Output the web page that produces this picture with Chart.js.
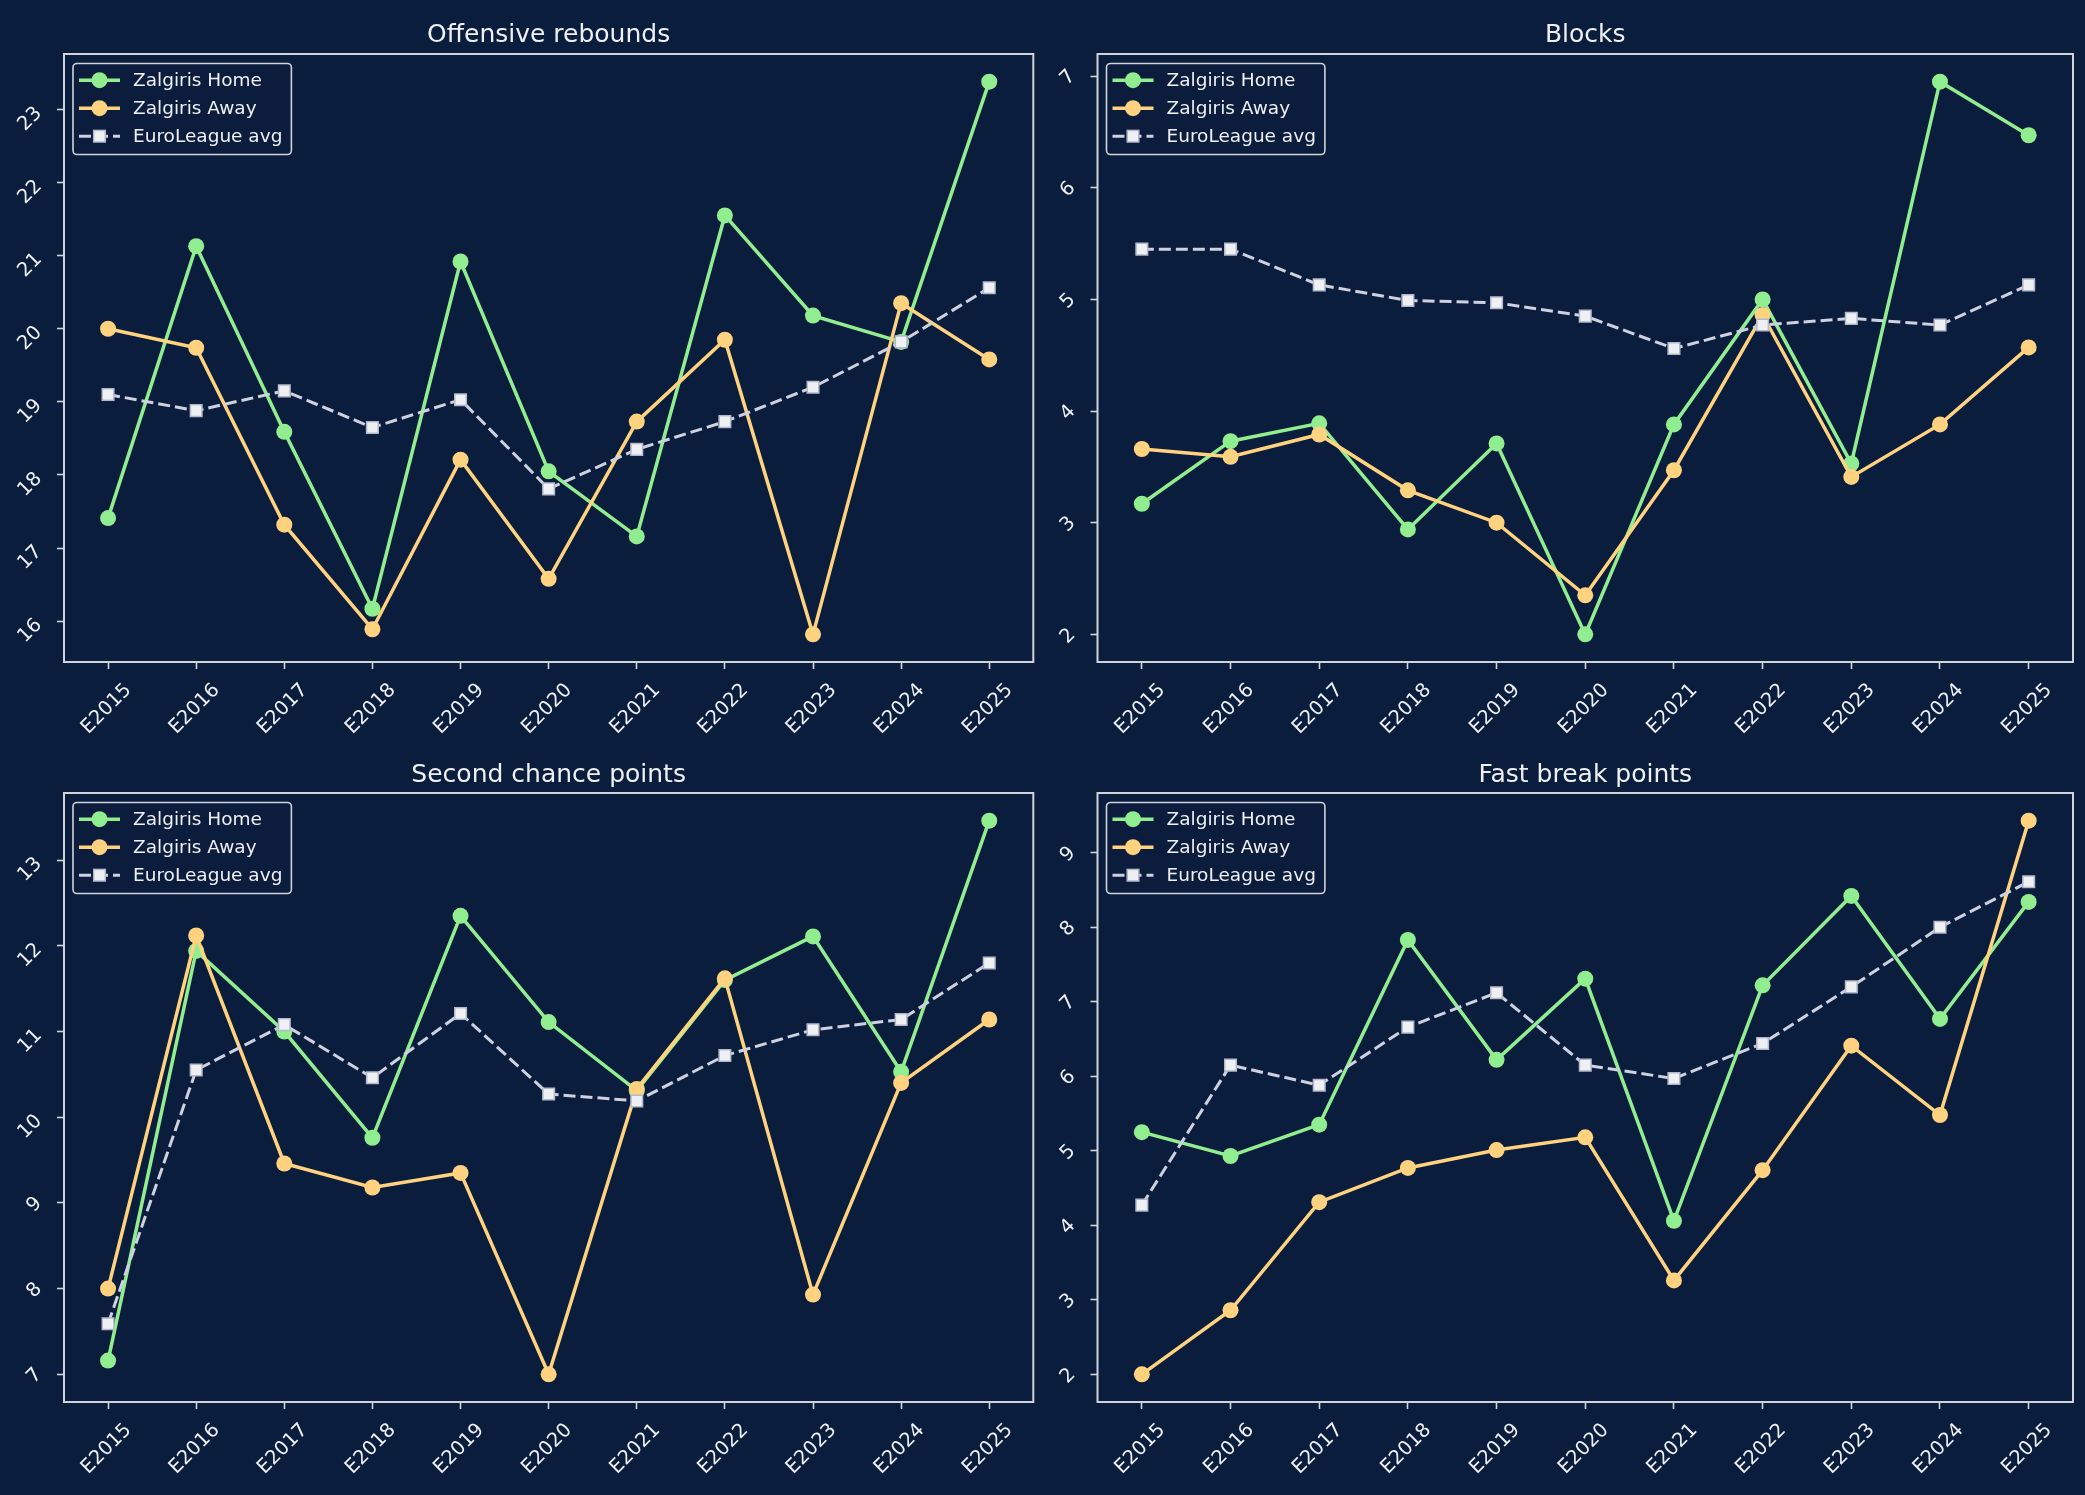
<!DOCTYPE html>
<html>
<head>
<meta charset="utf-8">
<script src="https://cdn.jsdelivr.net/npm/chart.js@4.4.1/dist/chart.umd.min.js"></script>
<style>
  html, body { margin: 0; padding: 0; background: #0b1d3c; width: 2085px; height: 1495px; overflow: hidden; }
  .panel { position: absolute; }
</style>
</head>
<body>
<div class="panel" style="left:0px;top:0px;width:1043px;height:740px;"><canvas id="c0"></canvas></div>
<div class="panel" style="left:1043px;top:0px;width:1042px;height:740px;"><canvas id="c1"></canvas></div>
<div class="panel" style="left:0px;top:740px;width:1043px;height:755px;"><canvas id="c2"></canvas></div>
<div class="panel" style="left:1043px;top:740px;width:1042px;height:755px;"><canvas id="c3"></canvas></div>
<script>
// ---------------- data ----------------
const seasons = ['E2015','E2016','E2017','E2018','E2019','E2020','E2021','E2022','E2023','E2024','E2025'];
const seriesNames = ['Zalgiris Home', 'Zalgiris Away', 'EuroLeague avg'];
const panelTitles = ['Offensive rebounds', 'Blocks', 'Second chance points', 'Fast break points'];

const orebHome = [17.41, 21.13, 18.59, 16.17, 20.92, 18.05, 17.16, 21.55, 20.18, 19.82, 23.38];
const orebAway = [20.00, 19.74, 17.32, 15.89, 18.21, 16.58, 18.73, 19.85, 15.82, 20.35, 19.58];
const orebAvg  = [19.10, 18.88, 19.15, 18.65, 19.03, 17.81, 18.35, 18.73, 19.20, 19.82, 20.56];

const blkHome = [3.17, 3.73, 3.89, 2.94, 3.71, 2.00, 3.88, 5.00, 3.53, 6.95, 6.47];
const blkAway = [3.66, 3.59, 3.79, 3.29, 3.00, 2.35, 3.47, 4.86, 3.41, 3.88, 4.57];
const blkAvg  = [5.45, 5.45, 5.13, 4.99, 4.97, 4.85, 4.56, 4.77, 4.83, 4.77, 5.13];

const scpHome = [7.16, 11.94, 11.00, 9.76, 12.35, 11.11, 10.31, 11.60, 12.11, 10.53, 13.46];
const scpAway = [8.00, 12.12, 9.46, 9.18, 9.35, 7.00, 10.33, 11.62, 7.93, 10.40, 11.14];
const scpAvg  = [7.59, 10.55, 11.08, 10.46, 11.21, 10.27, 10.19, 10.72, 11.02, 11.14, 11.80];

const fbpHome = [5.25, 4.93, 5.35, 7.83, 6.22, 7.31, 4.06, 7.22, 8.42, 6.77, 8.34];
const fbpAway = [2.00, 2.86, 4.31, 4.77, 5.01, 5.18, 3.26, 4.74, 6.41, 5.48, 9.43];
const fbpAvg  = [4.27, 6.15, 5.88, 6.66, 7.12, 6.15, 5.97, 6.44, 7.20, 8.00, 8.61];

// ---------------- style ----------------
const BG = '#0b1d3c';
const TXT = '#eef0f5';
const SPINE = '#cfd3db';
const FONT = '"DejaVu Sans", "Noto Sans", sans-serif';
const GREEN = '#90ee90';
const ORANGE = '#ffd27f';
const AVGC = '#cdd1e0';

const mplLook = {
  id: 'mplLook',
  afterDraw(chart, args, opts) {
    const { ctx, chartArea: a, scales } = chart;
    ctx.save();
    // frame (spines)
    ctx.strokeStyle = SPINE;
    ctx.lineWidth = 2;
    ctx.strokeRect(a.left, a.top, a.right - a.left, a.bottom - a.top);

    // panel title centred over the axes
    ctx.fillStyle = TXT;
    ctx.font = '25px ' + FONT;
    ctx.textAlign = 'center';
    ctx.textBaseline = 'middle';
    ctx.fillText(opts.title, (a.left + a.right) / 2, a.top - opts.titleGap);

    // x tick labels, rotated 45°, centred on tick
    const tfs = 19.5;
    ctx.font = tfs + 'px ' + FONT;
    const xs = scales.x;
    xs.ticks.forEach((t, i) => {
      const x = xs.getPixelForTick(i);
      const lbl = xs.getLabelForValue(t.value);
      ctx.save();
      ctx.translate(x - 1.5, a.bottom + 47);
      ctx.rotate(-Math.PI / 4);
      ctx.fillText(lbl, 0, 0);
      ctx.restore();
    });
    // y tick labels, rotated 45°, right aligned
    const ys = scales.y;
    ys.ticks.forEach(t => {
      const y = ys.getPixelForValue(t.value);
      const lbl = String(t.value);
      const w = ctx.measureText(lbl).width;
      const h = 0.73 * tfs;
      const W = (w + h) * Math.SQRT1_2;
      const cx = a.left - 20 - W / 2;
      const cy = y + 0.63 * w - 6;
      ctx.save();
      ctx.translate(cx, cy);
      ctx.rotate(-Math.PI / 4);
      ctx.fillText(lbl, 0, 0);
      ctx.restore();
    });

    // legend box (upper left)
    const lfs = 18.5;
    ctx.font = lfs + 'px ' + FONT;
    const dsets = chart.data.datasets;
    let maxW = 0;
    dsets.forEach(d => { maxW = Math.max(maxW, ctx.measureText(d.label).width); });
    const bx = a.left + 9, by = a.top + 9.5;
    const bw = 60 + maxW + 9, bh = 91;
    ctx.beginPath();
    if (ctx.roundRect) ctx.roundRect(bx, by, bw, bh, 4); else ctx.rect(bx, by, bw, bh);
    ctx.fillStyle = 'rgba(11,29,60,0.8)';
    ctx.fill();
    ctx.lineWidth = 1.6;
    ctx.strokeStyle = SPINE;
    ctx.stroke();
    dsets.forEach((d, i) => {
      const ry = by + 16.7 + i * 28;
      ctx.save();
      ctx.strokeStyle = d.borderColor;
      ctx.lineWidth = d.borderWidth;
      ctx.setLineDash(d.borderDash || []);
      ctx.beginPath();
      ctx.moveTo(bx + 6, ry);
      ctx.lineTo(bx + 47, ry);
      ctx.stroke();
      ctx.setLineDash([]);
      const mx = bx + 26.5;
      if (d.pointStyle === 'rect') {
        const s = d.pointRadius * Math.SQRT2;
        ctx.fillStyle = d.pointBackgroundColor;
        ctx.fillRect(mx - s / 2, ry - s / 2, s, s);
        ctx.lineWidth = d.pointBorderWidth;
        ctx.strokeStyle = d.pointBorderColor;
        ctx.strokeRect(mx - s / 2, ry - s / 2, s, s);
      } else {
        ctx.fillStyle = d.pointBackgroundColor;
        ctx.beginPath();
        ctx.arc(mx, ry, d.pointRadius, 0, Math.PI * 2);
        ctx.fill();
      }
      ctx.restore();
      ctx.fillStyle = TXT;
      ctx.textAlign = 'left';
      ctx.textBaseline = 'middle';
      ctx.fillText(d.label, bx + 60, ry + 1);
    });
    ctx.restore();
  }
};

function makeChart(id, title, home, away, avg, cfg) {
  const all = home.concat(away, avg);
  const lo = Math.min(...all), hi = Math.max(...all);
  const pad = 0.05 * (hi - lo);
  const gridOpts = { display: true, drawOnChartArea: false, drawTicks: true, tickLength: 7, tickColor: SPINE, tickWidth: 1.6, offset: false };
  return new Chart(document.getElementById(id), {
    type: 'line',
    data: {
      labels: seasons,
      datasets: [
        { label: seriesNames[0], data: home, borderColor: GREEN, backgroundColor: GREEN, borderWidth: 3.5,
          pointRadius: 8, pointBackgroundColor: GREEN, pointBorderWidth: 0, pointBorderColor: GREEN, pointStyle: 'circle', tension: 0, order: 3 },
        { label: seriesNames[1], data: away, borderColor: ORANGE, backgroundColor: ORANGE, borderWidth: 3.5,
          pointRadius: 8, pointBackgroundColor: ORANGE, pointBorderWidth: 0, pointBorderColor: ORANGE, pointStyle: 'circle', tension: 0, order: 2 },
        { label: seriesNames[2], data: avg, borderColor: AVGC, backgroundColor: AVGC, borderWidth: 3, borderDash: [12, 5],
          pointRadius: 8.2, pointBackgroundColor: '#eef0f4', pointBorderWidth: 1.5, pointBorderColor: '#b4b9c9', pointStyle: 'rect', tension: 0, order: 1 }
      ]
    },
    options: {
      responsive: true,
      maintainAspectRatio: false,
      animation: false,
      layout: { padding: { left: 0, right: cfg.padR, top: cfg.padT, bottom: 0 } },
      plugins: {
        legend: { display: false },
        tooltip: { enabled: false },
        title: { display: false },
        mplLook: { title: title, titleGap: cfg.titleGap }
      },
      scales: {
        x: { type: 'category', offset: true, grid: gridOpts, border: { display: false },
             ticks: { display: false }, afterFit: s => { s.height = cfg.xH; } },
        y: { type: 'linear', min: lo - pad, max: hi + pad, grid: gridOpts, border: { display: false },
             ticks: { display: false, stepSize: 1, includeBounds: false }, afterFit: s => { s.width = cfg.yW; } }
      }
    },
    plugins: [mplLook]
  });
}

makeChart('c0', panelTitles[0], orebHome, orebAway, orebAvg, { padR: 6,  padT: 54, yW: 64,   xH: 78, titleGap: 18.5 });
makeChart('c1', panelTitles[1], blkHome,  blkAway,  blkAvg,  { padR: 12, padT: 54, yW: 54.5, xH: 78, titleGap: 18.5 });
makeChart('c2', panelTitles[2], scpHome,  scpAway,  scpAvg,  { padR: 6,  padT: 53, yW: 64,   xH: 93, titleGap: 18 });
makeChart('c3', panelTitles[3], fbpHome,  fbpAway,  fbpAvg,  { padR: 12, padT: 53, yW: 54.5, xH: 93, titleGap: 18 });
</script>
</body>
</html>
